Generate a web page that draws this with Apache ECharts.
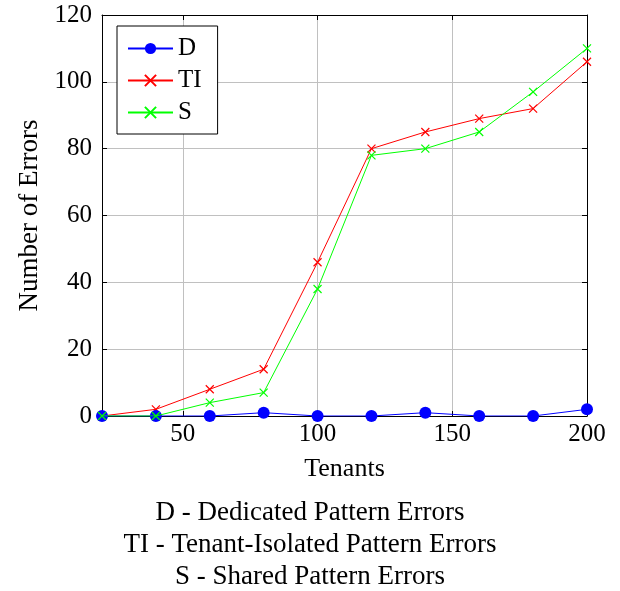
<!DOCTYPE html>
<html><head><meta charset="utf-8">
<script src="https://cdn.jsdelivr.net/npm/echarts@6/dist/echarts.min.js"></script>
<style>html,body{margin:0;padding:0;background:#fff}#c{width:620px;height:591px}</style>
</head><body><div id="c"></div>
<script>
const tenants = [20, 40, 60, 80, 100, 120, 140, 160, 180, 200];
const dedicated = [0, 0, 0, 1, 0, 0, 1, 0, 0, 2];
const tenantIsolated = [0, 2, 8, 14, 46, 80, 85, 89, 92, 106];
const shared = [0, 0, 4, 7, 38, 78, 80, 85, 97, 110];
const xTicks = [50, 100, 150, 200];
const captions = ['D - Dedicated Pattern Errors', 'TI - Tenant-Isolated Pattern Errors', 'S - Shared Pattern Errors'];

const FONT = '"Liberation Serif", "DejaVu Serif", serif';
const cross = 'path://M0,0L10,10M10,0L0,10';
const pairs = a => tenants.map((t, i) => [t, a[i]]);

const chart = echarts.init(document.getElementById('c'), null, {renderer: 'canvas'});
const xCommon = {
  type: 'value', min: 20, max: 200,
  axisLine: {show: true, onZero: false, lineStyle: {color: '#000', width: 1}},
  axisTick: {show: true, inside: true, length: 5, customValues: xTicks, lineStyle: {color: '#000'}},
  axisLabel: {customValues: xTicks, fontFamily: FONT, fontSize: 25, color: '#000', margin: 6},
  splitLine: {show: false}
};
const yCommon = {
  type: 'value', min: 0, max: 120, interval: 20,
  axisLine: {show: true, onZero: false, lineStyle: {color: '#000', width: 1}},
  axisTick: {show: true, inside: true, length: 5, lineStyle: {color: '#000'}},
  axisLabel: {fontFamily: FONT, fontSize: 25, color: '#000', margin: 10},
  splitLine: {show: false}
};
chart.setOption({
  animation: false,
  grid: {left: 102, right: 33, top: 15, bottom: 175, containLabel: false},
  xAxis: [
    Object.assign({}, xCommon, {position: 'bottom', name: 'Tenants', nameLocation: 'middle', nameGap: 40,
      nameTextStyle: {fontFamily: FONT, fontSize: 26, color: '#000'},
      splitLine: {show: true, lineStyle: {color: '#c0c0c0', width: 1}}}),
    Object.assign({}, xCommon, {position: 'top', axisLabel: {show: false}})
  ],
  yAxis: [
    Object.assign({}, yCommon, {position: 'left', name: 'Number of Errors', nameLocation: 'middle', nameGap: 57,
      nameTextStyle: {fontFamily: FONT, fontSize: 27, color: '#000'},
      splitLine: {show: true, lineStyle: {color: '#c0c0c0', width: 1}}}),
    Object.assign({}, yCommon, {position: 'right', axisLabel: {show: false}})
  ],
  legend: {
    left: 117, top: 26, orient: 'vertical', itemGap: 7,
    itemWidth: 45, itemHeight: 14,
    backgroundColor: '#fff', borderColor: '#000', borderWidth: 1, borderRadius: 0,
    padding: [10, 16, 9, 10],
    textStyle: {fontFamily: FONT, fontSize: 25, lineHeight: 25, color: '#000'},
    data: ['D', 'TI', 'S']
  },
  series: [
    {name: 'D', type: 'line', data: pairs(dedicated), symbol: 'circle', symbolSize: 12,
      lineStyle: {color: '#0000ff', width: 1}, itemStyle: {color: '#0000ff'}, z: 3},
    {name: 'TI', type: 'line', data: pairs(tenantIsolated), symbol: cross, symbolSize: 8,
      lineStyle: {color: '#ff0000', width: 1}, itemStyle: {color: 'none', borderColor: '#ff0000', borderWidth: 1.2}, z: 2},
    {name: 'S', type: 'line', data: pairs(shared), symbol: cross, symbolSize: 8,
      lineStyle: {color: '#00ff00', width: 1}, itemStyle: {color: 'none', borderColor: '#00ff00', borderWidth: 1.2}, z: 4}
  ],
  graphic: captions.map((t, i) => ({
    type: 'text', left: 'center', top: 499 + i * 32,
    style: {text: t, fontFamily: FONT, fontSize: 27, fill: '#000'}
  }))
});
</script></body></html>
